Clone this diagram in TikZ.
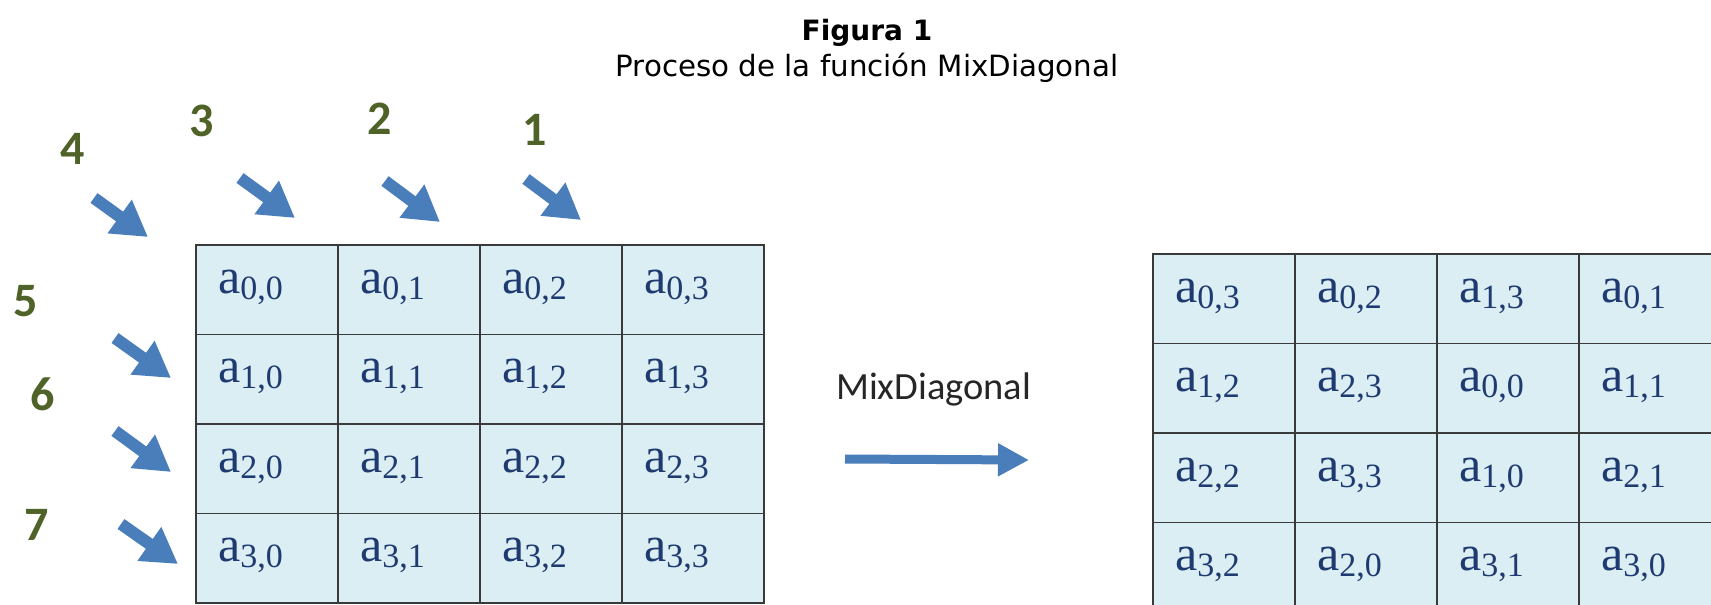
\documentclass[tikz,border=0pt]{standalone}
\usepackage{fontspec}
\setmainfont{Liberation Serif}
\newfontfamily\titlefont{DejaVu Sans}
\newfontfamily\numfont{Carlito}
\usetikzlibrary{arrows.meta}
\definecolor{cellfill}{HTML}{DAEEF3}
\definecolor{celltxt}{HTML}{1F3A70}
\definecolor{arrowblue}{HTML}{4A7EBB}
\definecolor{numgreen}{HTML}{4F6228}
\definecolor{gridline}{HTML}{3A3A3A}
\definecolor{labelgray}{HTML}{262626}
\newcommand{\aval}[2]{\fontsize{50}{50}\selectfont a\raisebox{-6pt}{\fontsize{34}{34}\selectfont #1,#2}}
\begin{document}
\begin{tikzpicture}[x=1pt,y=-1pt,
  cellbox/.style={draw=gridline, line width=1.6pt, fill=cellfill, minimum width=142pt, minimum height=89.5pt, inner sep=0pt, outer sep=0pt, anchor=north west},
  celltext/.style={anchor=base west, text=celltxt, inner sep=0pt},
  blockarrow/.style={draw=arrowblue, line width=12pt, -{Triangle[length=35pt,width=39pt]}},
  mixarrow/.style={draw=arrowblue, line width=9pt, -{Triangle[length=31pt,width=31pt]}},
  numlabel/.style={text=numgreen, font=\numfont\bfseries\fontsize{48}{48}\selectfont, inner sep=0pt, anchor=center},
  titletext/.style={font=\titlefont\fontsize{29.3}{29.3}\selectfont, inner sep=0pt, anchor=base},
  mixlabel/.style={font=\numfont\fontsize{38.5}{38.5}\selectfont, text=labelgray, inner sep=0pt, anchor=base west}]
\useasboundingbox (0,0) rectangle (1711,605);
\fill[white] (0,0) rectangle (1711,605);
\clip (0,0) rectangle (1711,605);

% title
\node[titletext, font=\titlefont\fontsize{28}{28}\selectfont\bfseries] (fig) at (867,40) {Figura 1};
\node[titletext] (cap) at (867,76) {Proceso de la función MixDiagonal};

% left grid
\foreach \r in {0,1,2,3}{
  \foreach \c in {0,1,2,3}{
    \node[cellbox] (L\r\c) at ({196+142*\c},{245+89.5*\r}) {};
    \node[celltext] (LT\r\c) at ([xshift=22pt,yshift=-48pt]L\r\c.north west) {\aval{\r}{\c}};
  }
}

% right grid
\foreach \r/\c/\i/\j in {0/0/0/3,0/1/0/2,0/2/1/3,0/3/0/1,
                         1/0/1/2,1/1/2/3,1/2/0/0,1/3/1/1,
                         2/0/2/2,2/1/3/3,2/2/1/0,2/3/2/1,
                         3/0/3/2,3/1/2/0,3/2/3/1,3/3/3/0}{
    \node[cellbox] (R\r\c) at ({1153+142*\c},{254+89.5*\r}) {};
    \node[celltext] (RT\r\c) at ([xshift=22pt,yshift=-48pt]R\r\c.north west) {\aval{\i}{\j}};
}

% diagonal numbers
\node[numlabel] (n1) at (535,130) {1};
\node[numlabel] (n2) at (380,119) {2};
\node[numlabel] (n3) at (202,121) {3};
\node[numlabel] (n4) at (73,149) {4};
\node[numlabel] (n5) at (26,301) {5};
\node[numlabel] (n6) at (43,394) {6};
\node[numlabel] (n7) at (37,525) {7};

% diagonal arrows
\coordinate (a1s) at (526,179); \coordinate (a1e) at (581,220);
\coordinate (a2s) at (385,181); \coordinate (a2e) at (440,222);
\coordinate (a3s) at (240,178); \coordinate (a3e) at (295,218);
\coordinate (a4s) at (94,198);  \coordinate (a4e) at (148,237);
\coordinate (a5s) at (115,338); \coordinate (a5e) at (171,378);
\coordinate (a6s) at (115,431); \coordinate (a6e) at (171,472);
\coordinate (a7s) at (121,524); \coordinate (a7e) at (178,564);
\foreach \k in {1,...,7}{
  \draw[blockarrow] (a\k s) -- (a\k e);
}

% MixDiagonal arrow
\node[mixlabel] (mix) at (836,399) {MixDiagonal};
\coordinate (mxs) at (845,459);
\coordinate (mxe) at (1029,460);
\draw[mixarrow] (mxs) -- (mxe);
\end{tikzpicture}
\end{document}
